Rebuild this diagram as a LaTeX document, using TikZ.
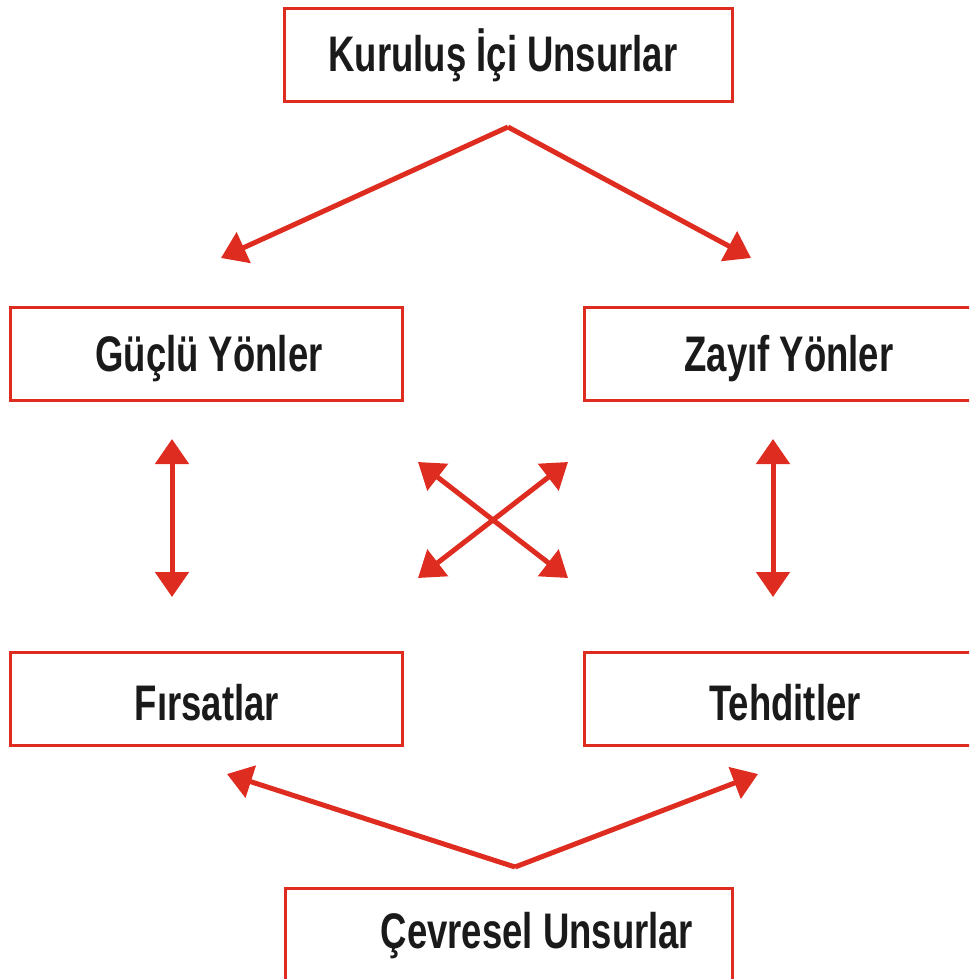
\documentclass[tikz,border=0pt]{standalone}
\usepackage{fontspec}
\newfontfamily\lbl{Liberation Sans}[FakeStretch=0.73]
\usetikzlibrary{arrows.meta}
\definecolor{swred}{RGB}{222,45,32}
\definecolor{swtext}{RGB}{26,26,26}
\tikzset{
  box/.style={draw=swred, line width=3pt, inner sep=0pt, minimum height=93pt},
  lbltext/.style={anchor=base, inner sep=0pt, text=swtext, font=\lbl\bfseries\fontsize{50}{60}\selectfont},
  conn/.style={draw=swred, line width=5pt},
  tip/.style={-{Triangle[length=25pt,width=33pt]}},
  tips/.style={{Triangle[length=25pt,width=33pt]}-{Triangle[length=25pt,width=33pt]}},
}
\begin{document}
\begin{tikzpicture}[x=1pt,y=-1pt]
\useasboundingbox (0,0) rectangle (969,979);
\clip (0,0) rectangle (969,979);
% boxes
\node[box, minimum width=448pt] (kb) at (508,55.5) {};
\node[box, minimum width=392pt] (gb) at (206,353.5) {};
\node[box, minimum width=396pt] (zb) at (782,353.5) {};
\node[box, minimum width=392pt] (fb) at (206,699) {};
\node[box, minimum width=396pt] (tb) at (782,699) {};
\node[box, minimum width=447pt] (cb) at (508.5,934.5) {};
% labels
\node[lbltext] (kt) at (503,72) {Kuruluş İçi Unsurlar};
\node[lbltext] (gt) at (209,371) {Güçlü Yönler};
\node[lbltext] (zt) at (789,371) {Zayıf Yönler};
\node[lbltext] (ft) at (207,720) {Fırsatlar};
\node[lbltext] (tt) at (785,720) {Tehditler};
\node[lbltext] (ct) at (537,948) {Çevresel Unsurlar};
% coordinates
\coordinate (ta) at (508,127);
\coordinate (tl) at (221,258);
\coordinate (tr) at (751,258);
\coordinate (ba) at (515,867);
\coordinate (bl) at (227,774);
\coordinate (br) at (758,774);
\coordinate (lvt) at (172,439);
\coordinate (lvb) at (172,597);
\coordinate (rvt) at (773,439);
\coordinate (rvb) at (773,597);
\coordinate (xtl) at (418,462);
\coordinate (xtr) at (568,462);
\coordinate (xbl) at (418,578);
\coordinate (xbr) at (568,578);
% connectors
\draw[conn, tip, line join=miter] (ta) -- (tl);
\draw[conn, tip] (ta) -- (tr);
\draw[conn, tip] (ba) -- (bl);
\draw[conn, tip] (ba) -- (br);
\draw[conn, tips] (lvt) -- (lvb);
\draw[conn, tips] (rvt) -- (rvb);
\draw[conn, tips] (xtl) -- (xbr);
\draw[conn, tips] (xtr) -- (xbl);
\end{tikzpicture}
\end{document}
